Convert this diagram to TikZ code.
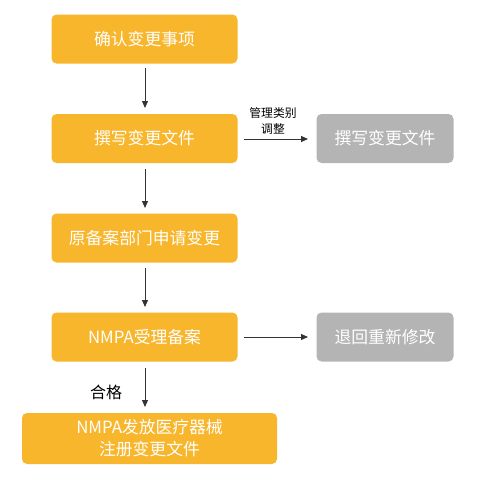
\documentclass[tikz,border=0pt]{standalone}
\usepackage{fontspec}
\setmainfont{Noto Sans CJK SC}
\usetikzlibrary{arrows.meta}
\definecolor{orangebox}{HTML}{F7B62C}
\definecolor{graybox}{HTML}{B4B4B4}
\definecolor{arrowc}{HTML}{333333}
\tikzset{
  obox/.style={fill=orangebox, rounded corners=5pt, inner sep=0pt, text=white, font=\fontsize{16.8}{22}\selectfont, align=center},
  gbox/.style={fill=graybox, rounded corners=5pt, inner sep=0pt, text=white, font=\fontsize{16.8}{22}\selectfont, align=center},
  conn/.style={draw=arrowc, line width=1pt, -{Triangle[length=7pt,width=6pt]}},
}
\begin{document}
\begin{tikzpicture}[x=1pt,y=-1pt]
\useasboundingbox (0,0) rectangle (482,491);
\node[obox, minimum width=186pt, minimum height=49pt] (b1) at (144.5,39) {确认变更事项};
\node[obox, minimum width=186pt, minimum height=49pt] (b2) at (144.5,138.5) {撰写变更文件};
\node[obox, minimum width=186pt, minimum height=49pt] (b3) at (144.5,238) {原备案部门申请变更};
\node[obox, minimum width=186pt, minimum height=49pt] (b4) at (144.5,337) {NMPA受理备案};
\node[obox, minimum width=255pt, minimum height=51pt] (b5) at (149.5,438.5) {NMPA发放医疗器械\\注册变更文件};
\node[gbox, minimum width=137pt, minimum height=49pt] (g1) at (385,138.5) {撰写变更文件};
\node[gbox, minimum width=137pt, minimum height=49pt] (g2) at (385,337) {退回重新修改};
\coordinate (a1s) at (145,68); \coordinate (a1e) at (145,108);
\coordinate (a2s) at (145,169); \coordinate (a2e) at (145,208);
\coordinate (a3s) at (145,268); \coordinate (a3e) at (145,307);
\coordinate (a4s) at (145,368); \coordinate (a4e) at (145,407);
\coordinate (h1s) at (244,139); \coordinate (h1e) at (308,139);
\coordinate (h2s) at (244,337); \coordinate (h2e) at (308,337);
\draw[conn] (a1s) -- (a1e);
\draw[conn] (a2s) -- (a2e);
\draw[conn] (a3s) -- (a3e);
\draw[conn] (a4s) -- (a4e);
\draw[conn] (h1s) -- (h1e);
\draw[conn] (h2s) -- (h2e);
\node[font=\fontsize{11.8}{16}\selectfont, align=center, inner sep=0pt] (l1) at (273,121) {管理类别\\调整};
\node[font=\fontsize{16}{18}\selectfont, inner sep=0pt] (l2) at (106,392) {合格};
\end{tikzpicture}
\end{document}
